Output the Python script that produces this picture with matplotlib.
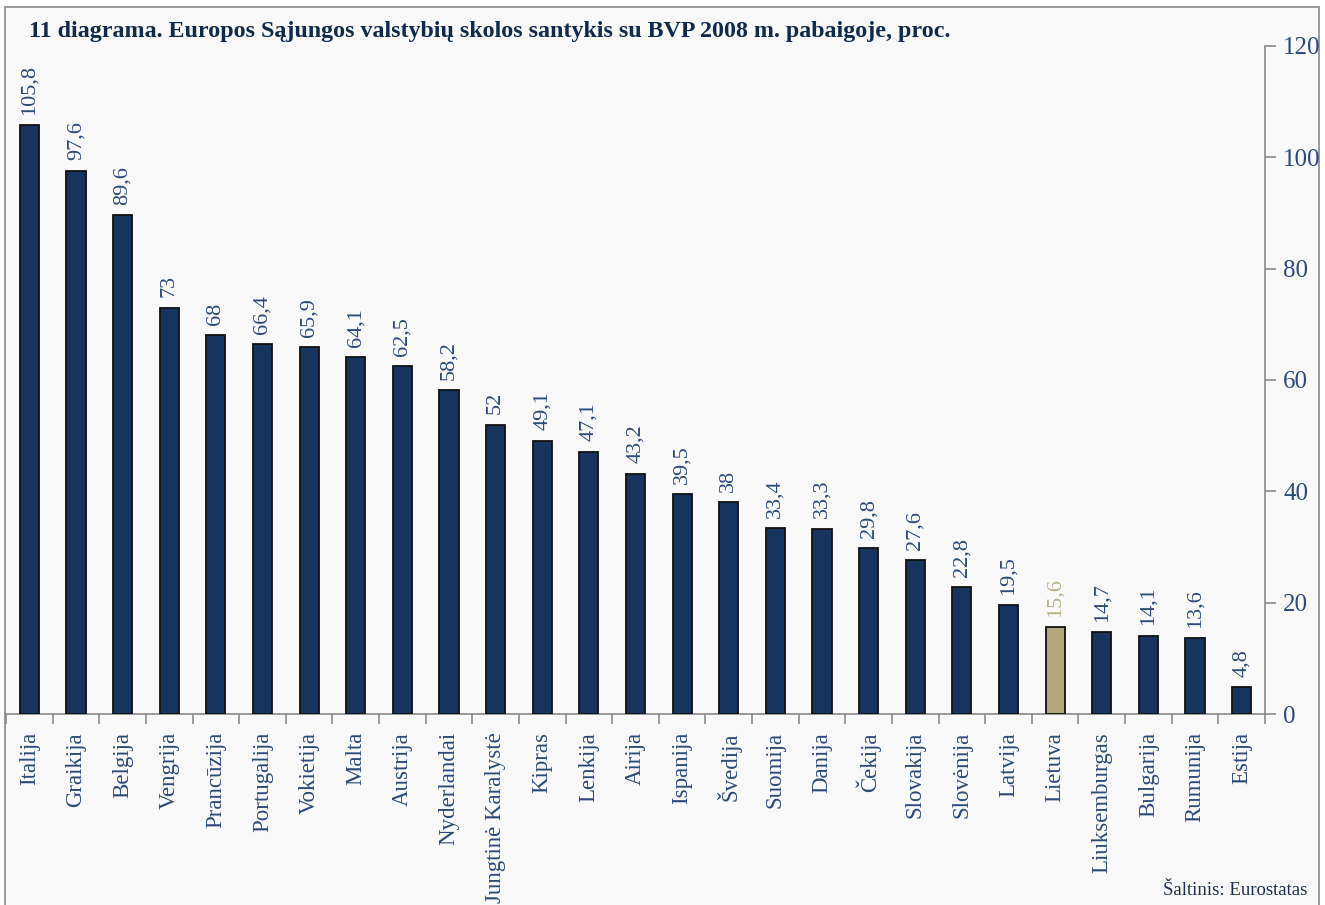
import matplotlib
matplotlib.use("Agg")
import matplotlib.pyplot as plt
from matplotlib.patches import Rectangle
from matplotlib.ticker import FixedLocator

countries = ["Italija", "Graikija", "Belgija", "Vengrija", "Prancūzija", "Portugalija",
             "Vokietija", "Malta", "Austrija", "Nyderlandai", "Jungtinė Karalystė", "Kipras",
             "Lenkija", "Airija", "Ispanija", "Švedija", "Suomija", "Danija", "Čekija",
             "Slovakija", "Slovėnija", "Latvija", "Lietuva", "Liuksemburgas", "Bulgarija",
             "Rumunija", "Estija"]
values = [105.8, 97.6, 89.6, 73, 68, 66.4, 65.9, 64.1, 62.5, 58.2, 52, 49.1, 47.1, 43.2,
          39.5, 38, 33.4, 33.3, 29.8, 27.6, 22.8, 19.5, 15.6, 14.7, 14.1, 13.6, 4.8]
highlight = "Lietuva"
yticks = [0, 20, 40, 60, 80, 100, 120]
title = "11 diagrama. Europos Sąjungos valstybių skolos santykis su BVP 2008 m. pabaigoje, proc."
source = "Šaltinis: Eurostatas"

NAVY = "#17345f"
KHAKI = "#b0a878"
KHAKI_TXT = "#b8b28a"
TXT = "#2b4a7a"
GRAY = "#8a8a8a"

plt.rcParams["font.family"] = ["Liberation Serif", "DejaVu Serif"]

W, H = 1325, 905
fig = plt.figure(figsize=(W / 100, H / 100), dpi=100)
fig.patch.set_facecolor("white")
fig.patches.append(Rectangle((5 / W, -0.01), (1319 - 5) / W, 1.01 - 7 / H - 0.0,
                             transform=fig.transFigure, facecolor="#f9f9f9",
                             edgecolor=GRAY, linewidth=1.2, zorder=-10))

ax = fig.add_axes([6 / W, (H - 714) / H, (1265 - 6) / W, (714 - 46) / H])
ax.set_facecolor("none")

x = list(range(len(countries)))
colors = [KHAKI if c == highlight else NAVY for c in countries]
ax.bar(x, values, width=0.41, color=colors, edgecolor="#111111", linewidth=1.3, zorder=3)

for xi, v, c in zip(x, values, countries):
    lab = ("%g" % v).replace(".", ",")
    ax.annotate(lab, (xi, v), xytext=(0, 7.5), textcoords="offset points",
                rotation=90, ha="center", va="bottom", fontsize=16,
                color=KHAKI_TXT if c == highlight else TXT)

ax.set_xlim(-0.5, len(countries) - 0.5)
ax.set_ylim(0, 120)

ax.set_xticks(x)
ax.set_xticklabels(countries, rotation=90, fontsize=16.5, color=TXT, va="top", ha="center")
ax.tick_params(axis="x", which="major", length=0, pad=13)
ax.xaxis.set_minor_locator(FixedLocator([i - 0.5 for i in range(len(countries) + 1)]))
ax.tick_params(axis="x", which="minor", length=7, color=GRAY, width=1.2, direction="out")

ax.yaxis.tick_right()
ax.set_yticks(yticks)
ax.set_yticklabels([str(t) for t in yticks], fontsize=18, color=TXT)
ax.tick_params(axis="y", length=8, color=GRAY, width=1.2, direction="out", pad=5)

for s in ["top", "left"]:
    ax.spines[s].set_visible(False)
for s in ["bottom", "right"]:
    ax.spines[s].set_color(GRAY)
    ax.spines[s].set_linewidth(1.2)

fig.text(29 / W, 1 - 32 / H, title, fontsize=17.3, fontweight="bold", color="#0f2a4a",
         ha="left", va="center")
fig.text(1307 / W, 1 - 890 / H, source, fontsize=13.5, color="#1a2f4f",
         ha="right", va="center")

fig.savefig("out.png", dpi=100, facecolor="white")
